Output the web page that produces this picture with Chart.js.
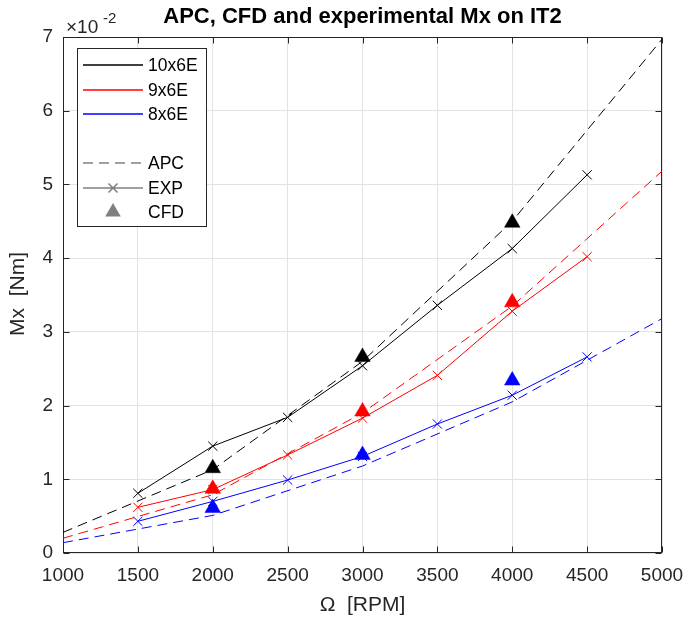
<!DOCTYPE html>
<html>
<head>
<meta charset="utf-8">
<script src="https://cdn.jsdelivr.net/npm/chart.js@4/dist/chart.umd.min.js"></script>
<style>
html,body{margin:0;padding:0;background:#fff;}
#c{display:block;}
</style>
</head>
<body>
<canvas id="c" width="700" height="619"></canvas>
<script>
// ---- data (Mx in Nm) ----
const propellers = ['10x6E', '9x6E', '8x6E'];
const propColors = ['#000000', '#ff0000', '#0000ff'];

const rpmApc = [1000, 2000, 3000, 4000, 5000];
const apc10 = [0.0028, 0.0113, 0.0260, 0.0450, 0.0697];
const apc9  = [0.0020, 0.0079, 0.0190, 0.0335, 0.0518];
const apc8  = [0.0014, 0.0051, 0.0118, 0.0205, 0.0318];

const rpmExp = [1500, 2000, 2500, 3000, 3500, 4000, 4500];
const exp10 = [0.0081, 0.0145, 0.0184, 0.0254, 0.0336, 0.0413, 0.0513];
const exp9  = [0.0062, 0.0086, 0.0133, 0.0183, 0.0241, 0.0328, 0.0402];
const exp8  = [0.0043, 0.0070, 0.0099, 0.0131, 0.0175, 0.0214, 0.0266];

const rpmCfd = [2000, 3000, 4000];
const cfd10 = [0.0115, 0.0266, 0.0448];
const cfd9  = [0.0087, 0.0192, 0.0340];
const cfd8  = [0.0061, 0.0133, 0.0234];

const xTicks = [1000, 1500, 2000, 2500, 3000, 3500, 4000, 4500, 5000];
const yTicks = [0, 1, 2, 3, 4, 5, 6, 7]; // x 10^-2

const titleText = 'APC, CFD and experimental Mx on IT2';
const xLabel = '\u03A9  [RPM]';
const yLabel = 'Mx  [Nm]';
const legendLabels = ['10x6E', '9x6E', '8x6E', '', 'APC', 'EXP', 'CFD'];

const FONT = '"Liberation Sans", Arial, Helvetica, sans-serif';
const TXT = '#262626';

function pts(xs, ys) { return xs.map((x, i) => ({x: x, y: ys[i]})); }

const apcAll = [apc10, apc9, apc8];
const expAll = [exp10, exp9, exp8];
const cfdAll = [cfd10, cfd9, cfd8];

const datasets = [];
// CFD first so it is drawn on top
for (let i = 0; i < 3; i++) {
  datasets.push({
    label: 'CFD ' + propellers[i], data: pts(rpmCfd, cfdAll[i]), showLine: false,
    pointStyle: 'triangle', pointRadius: 9, pointBackgroundColor: propColors[i],
    pointBorderColor: propColors[i], pointBorderWidth: 0.5
  });
}
for (let i = 0; i < 3; i++) {
  datasets.push({
    label: 'EXP ' + propellers[i], data: pts(rpmExp, expAll[i]), showLine: true,
    borderColor: propColors[i], borderWidth: 1, pointStyle: 'crossRot', pointRadius: 6.5,
    pointBorderColor: propColors[i], pointBorderWidth: 1, tension: 0
  });
}
for (let i = 0; i < 3; i++) {
  datasets.push({
    label: 'APC ' + propellers[i], data: pts(rpmApc, apcAll[i]), showLine: true,
    borderColor: propColors[i], borderWidth: 1, borderDash: [10, 6], pointRadius: 0, tension: 0
  });
}

const extras = {
  id: 'extras',
  beforeDatasetsDraw(chart) {
    const ctx = chart.ctx, a = chart.chartArea;
    const xs = chart.scales.x, ys = chart.scales.y;
    ctx.save();
    ctx.strokeStyle = TXT; ctx.lineWidth = 1;
    const L = Math.round(a.left) + 0.5, R = Math.round(a.right) - 0.5;
    const T = Math.round(a.top) + 0.5, B = Math.round(a.bottom) - 0.5;
    ctx.strokeRect(L, T, R - L, B - T);
    ctx.beginPath();
    const tl = 6;
    xTicks.forEach(v => {
      const px = Math.round(xs.getPixelForValue(v)) + 0.5;
      ctx.moveTo(px, B); ctx.lineTo(px, B - tl);
      ctx.moveTo(px, T); ctx.lineTo(px, T + tl);
    });
    yTicks.forEach(v => {
      const py = Math.round(ys.getPixelForValue(v / 100)) + 0.5;
      ctx.moveTo(L, py); ctx.lineTo(L + tl, py);
      ctx.moveTo(R, py); ctx.lineTo(R - tl, py);
    });
    ctx.stroke();
    ctx.restore();
  },
  afterDraw(chart) {
    const ctx = chart.ctx, a = chart.chartArea;
    ctx.save();
    // title
    ctx.fillStyle = '#000';
    ctx.font = 'bold 22px ' + FONT;
    ctx.textAlign = 'center'; ctx.textBaseline = 'middle';
    ctx.fillText(titleText, (a.left + a.right) / 2, 17);
    // exponent
    ctx.fillStyle = TXT;
    ctx.textAlign = 'left'; ctx.textBaseline = 'alphabetic';
    ctx.font = '19px ' + FONT;
    ctx.fillText('\u00D710', 66, 33);
    ctx.font = '15px ' + FONT;
    ctx.fillText('-2', 103, 23);
    // axis labels
    ctx.font = '21px ' + FONT;
    ctx.textAlign = 'center'; ctx.textBaseline = 'middle';
    ctx.fillText(xLabel, (a.left + a.right) / 2, 605);
    ctx.save();
    ctx.translate(18, 294);
    ctx.rotate(-Math.PI / 2);
    ctx.fillText(yLabel, 0, 0);
    ctx.restore();
    // legend
    const bx = 77.5, by = 48.5, bw = 129, bh = 178;
    ctx.fillStyle = '#fff';
    ctx.fillRect(bx, by, bw, bh);
    ctx.strokeStyle = TXT; ctx.lineWidth = 1;
    ctx.strokeRect(bx, by, bw, bh);
    const rows = [65, 90, 114, 138, 163, 188, 212];
    const gray = '#808080';
    ctx.font = '17.5px ' + FONT;
    ctx.textAlign = 'left'; ctx.textBaseline = 'middle';
    legendLabels.forEach((lab, i) => {
      if (!lab) return;
      const y = rows[i];
      ctx.save();
      ctx.lineWidth = 1.5;
      if (i < 3) {
        ctx.strokeStyle = propColors[i];
        ctx.beginPath(); ctx.moveTo(83, y); ctx.lineTo(143, y); ctx.stroke();
      } else if (lab === 'APC') {
        ctx.strokeStyle = gray; ctx.setLineDash([10, 6]);
        ctx.beginPath(); ctx.moveTo(83, y); ctx.lineTo(143, y); ctx.stroke();
      } else if (lab === 'EXP') {
        ctx.strokeStyle = gray;
        ctx.beginPath(); ctx.moveTo(83, y); ctx.lineTo(143, y);
        const d = 4.5;
        ctx.moveTo(113 - d, y - d); ctx.lineTo(113 + d, y + d);
        ctx.moveTo(113 - d, y + d); ctx.lineTo(113 + d, y - d);
        ctx.stroke();
      } else if (lab === 'CFD') {
        ctx.fillStyle = gray;
        const r = 9;
        ctx.beginPath();
        ctx.moveTo(113, y - r);
        ctx.lineTo(113 + r * Math.sin(2 * Math.PI / 3), y - r * Math.cos(2 * Math.PI / 3));
        ctx.lineTo(113 + r * Math.sin(4 * Math.PI / 3), y - r * Math.cos(4 * Math.PI / 3));
        ctx.closePath(); ctx.fill();
      }
      ctx.restore();
      ctx.fillStyle = '#000';
      ctx.fillText(lab, 148, y + 1);
    });
    ctx.restore();
  }
};

new Chart(document.getElementById('c'), {
  type: 'scatter',
  data: { datasets: datasets },
  options: {
    responsive: false,
    devicePixelRatio: 1,
    animation: false,
    layout: { padding: { top: 37, right: 38, bottom: 0, left: 0 } },
    plugins: { legend: { display: false }, title: { display: false }, tooltip: { enabled: false } },
    scales: {
      x: {
        type: 'linear', min: 1000, max: 5000,
        afterFit(s) { s.height = 66; },
        afterBuildTicks(s) { s.ticks = xTicks.map(v => ({value: v})); },
        ticks: { callback: v => String(v), color: TXT, font: { size: 19, family: FONT }, padding: 11, maxRotation: 0, autoSkip: false },
        grid: { color: '#e3e3e3', drawTicks: false, lineWidth: 1 },
        border: { display: false }
      },
      y: {
        type: 'linear', min: 0, max: 0.07,
        afterFit(s) { s.width = 63; },
        afterBuildTicks(s) { s.ticks = yTicks.map(v => ({value: v / 100})); },
        ticks: { callback: v => String(Math.round(v * 100)), color: TXT, font: { size: 19, family: FONT }, padding: 10, autoSkip: false },
        grid: { color: '#e3e3e3', drawTicks: false, lineWidth: 1 },
        border: { display: false }
      }
    }
  },
  plugins: [extras]
});
</script>
</body>
</html>
